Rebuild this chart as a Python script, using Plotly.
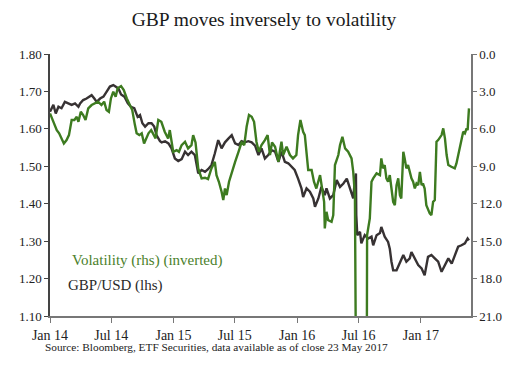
import plotly.graph_objects as go

gbp_dates = [
    "2014-01-01","2014-01-11","2014-01-18","2014-01-26","2014-02-04","2014-02-14","2014-02-24","2014-03-06",
    "2014-03-16","2014-03-21","2014-03-26","2014-03-31","2014-04-09","2014-04-19","2014-04-29","2014-05-04",
    "2014-05-12","2014-05-19","2014-05-29","2014-06-08","2014-06-17","2014-06-27","2014-07-07","2014-07-14",
    "2014-07-22","2014-07-30","2014-08-09","2014-08-19","2014-08-28","2014-09-07","2014-09-17","2014-09-24",
    "2014-10-01","2014-10-09","2014-10-19","2014-10-28","2014-11-05","2014-11-12","2014-11-22",
    "2014-11-27","2014-12-07","2014-12-17","2014-12-26","2015-01-05","2015-01-15","2015-01-25","2015-02-04",
    "2015-02-13","2015-02-23","2015-03-05","2015-03-10","2015-03-15","2015-03-25","2015-04-04","2015-04-13",
    "2015-04-23","2015-05-03","2015-05-13","2015-05-23","2015-06-02","2015-06-12","2015-06-22","2015-07-02",
    "2015-07-12","2015-07-21","2015-07-31","2015-08-10","2015-08-20","2015-08-30","2015-09-09","2015-09-18",
    "2015-09-28","2015-10-08","2015-10-18","2015-10-28","2015-11-07","2015-11-16","2015-11-26","2015-12-06",
    "2015-12-15","2015-12-25","2016-01-04","2016-01-14","2016-01-19","2016-01-29","2016-02-08","2016-02-18",
    "2016-02-23","2016-03-04","2016-03-13","2016-03-23","2016-03-28","2016-04-07","2016-04-17","2016-04-27",
    "2016-05-07","2016-05-17","2016-05-27","2016-06-05","2016-06-15","2016-06-20","2016-06-23","2016-06-24",
    "2016-06-27","2016-07-05","2016-07-09","2016-07-19","2016-07-29","2016-08-08","2016-08-13","2016-08-23",
    "2016-09-02","2016-09-06","2016-09-16","2016-09-26","2016-10-01","2016-10-06","2016-10-11","2016-10-21",
    "2016-10-31","2016-11-10","2016-11-19","2016-11-29","2016-12-04","2016-12-14","2016-12-24","2017-01-03",
    "2017-01-12","2017-01-22","2017-02-01","2017-02-11","2017-02-21","2017-03-03","2017-03-13","2017-03-23",
    "2017-04-02","2017-04-11","2017-04-21","2017-05-01","2017-05-11","2017-05-19","2017-05-23",
]
gbp_values = [
    1.646,1.664,1.641,1.659,1.655,1.672,1.668,1.664,
    1.668,1.664,1.659,1.668,1.677,1.681,1.686,1.690,
    1.681,1.672,1.681,1.686,1.699,1.713,1.717,1.713,
    1.708,1.692,1.686,1.668,1.659,1.655,1.632,1.637,
    1.615,1.606,1.615,1.615,1.606,1.583,1.567,
    1.564,1.567,1.561,1.548,1.521,1.514,1.519,1.539,
    1.530,1.539,1.530,1.503,1.481,1.490,1.485,1.492,
    1.503,1.534,1.570,1.548,1.564,1.574,1.583,1.561,
    1.557,1.567,1.564,1.567,1.564,1.555,1.530,1.548,
    1.521,1.530,1.543,1.539,1.512,1.539,1.512,1.508,
    1.499,1.490,1.467,1.441,1.418,1.441,1.432,1.414,
    1.392,1.414,1.445,1.423,1.441,1.414,1.423,1.463,
    1.445,1.454,1.467,1.441,1.414,1.465,1.481,1.370,
    1.316,1.325,1.294,1.316,1.307,1.312,1.289,1.316,
    1.322,1.338,1.312,1.298,1.280,1.245,1.222,1.222,
    1.245,1.263,1.245,1.254,1.271,1.254,1.236,1.227,
    1.209,1.258,1.263,1.254,1.245,1.218,1.236,1.254,
    1.240,1.263,1.285,1.289,1.294,1.307,1.302,
]

vol_dates = [
    "2014-01-01","2014-01-11","2014-01-21","2014-01-28","2014-02-04","2014-02-11","2014-02-19","2014-02-26",
    "2014-03-06","2014-03-14","2014-03-21","2014-03-26","2014-04-02","2014-04-09","2014-04-16","2014-04-24",
    "2014-05-04","2014-05-14","2014-05-23","2014-06-02","2014-06-10","2014-06-17","2014-06-24","2014-06-30",
    "2014-07-07","2014-07-14","2014-07-20","2014-07-30","2014-08-07","2014-08-16","2014-08-23","2014-09-01",
    "2014-09-09","2014-09-14","2014-09-22","2014-09-29","2014-10-06","2014-10-12","2014-10-19","2014-10-27",
    "2014-11-03","2014-11-09","2014-11-17",
    "2014-11-26","2014-12-06","2014-12-16","2014-12-21","2014-12-31","2015-01-10","2015-01-17","2015-01-25",
    "2015-02-04","2015-02-13","2015-02-23","2015-02-28","2015-03-07","2015-03-15","2015-03-25","2015-04-04",
    "2015-04-13","2015-04-23","2015-05-03","2015-05-08","2015-05-15","2015-05-23","2015-05-28","2015-06-02",
    "2015-06-07","2015-06-14","2015-06-22","2015-07-02","2015-07-12","2015-07-21","2015-07-29","2015-08-05",
    "2015-08-12","2015-08-20","2015-08-27","2015-09-03","2015-09-10","2015-09-18",
    "2015-09-28","2015-10-06","2015-10-13","2015-10-19","2015-10-28","2015-11-07","2015-11-11","2015-11-16",
    "2015-11-21","2015-12-01","2015-12-11","2015-12-20","2015-12-30","2016-01-04","2016-01-11","2016-01-19",
    "2016-01-24","2016-01-29","2016-02-03","2016-02-13","2016-02-20","2016-02-27","2016-03-04","2016-03-09",
    "2016-03-15","2016-03-21","2016-03-23","2016-03-28","2016-04-02","2016-04-12","2016-04-17","2016-04-22",
    "2016-05-02","2016-05-07","2016-05-14","2016-05-22","2016-05-31","2016-06-10","2016-06-15","2016-06-20",
    "2016-06-23","2016-07-25","2016-07-26","2016-08-03","2016-08-08","2016-08-13","2016-08-23","2016-09-02",
    "2016-09-06","2016-09-11","2016-09-16","2016-09-21","2016-09-26","2016-10-01","2016-10-06","2016-10-11",
    "2016-10-16","2016-10-21","2016-10-26","2016-10-31","2016-11-04","2016-11-10","2016-11-14","2016-11-19",
    "2016-11-24","2016-11-29","2016-12-04","2016-12-09","2016-12-14","2016-12-19","2016-12-24","2016-12-29",
    "2017-01-03","2017-01-07","2017-01-12","2017-01-17","2017-01-22","2017-01-27","2017-02-01","2017-02-06",
    "2017-02-11","2017-02-16","2017-02-21","2017-03-03","2017-03-08","2017-03-13","2017-03-18","2017-03-23",
    "2017-04-01","2017-04-11","2017-04-16","2017-04-21","2017-04-26","2017-05-01","2017-05-06","2017-05-11",
    "2017-05-16","2017-05-19","2017-05-23",
]
vol_values = [
    4.76,5.43,6.10,6.36,6.76,7.17,6.90,6.50,
    5.29,5.29,5.03,5.43,4.63,4.89,5.29,4.36,
    4.09,3.96,3.82,4.09,3.82,4.49,4.63,3.56,
    3.02,3.42,2.75,2.57,2.89,3.56,3.96,4.49,
    5.70,6.36,6.50,6.36,7.17,6.76,6.36,6.10,
    6.50,6.76,5.29,
    5.43,6.23,6.77,6.10,7.84,7.70,7.84,7.30,
    7.03,7.57,7.30,6.50,7.09,9.17,9.97,9.92,
    10.03,9.17,8.64,9.71,10.24,11.04,11.71,10.78,
    11.31,10.24,9.44,8.64,7.84,7.09,7.30,5.83,
    4.89,5.03,5.43,7.03,7.84,7.30,
    6.90,6.50,8.10,7.09,7.43,8.64,7.83,7.03,
    8.10,7.43,8.10,8.37,8.10,6.50,5.29,6.23,
    6.50,7.83,9.30,9.30,10.24,10.78,10.24,9.71,
    10.78,11.85,13.98,12.65,13.32,13.45,12.92,8.90,
    8.10,7.30,6.63,7.57,7.83,8.37,9.44,11.31,
    25.0,25.0,14.52,13.18,10.24,9.97,9.57,9.71,
    8.37,9.17,8.90,9.97,10.24,9.71,10.78,11.85,
    12.11,10.51,9.97,11.31,11.58,7.83,8.37,9.17,
    8.90,9.44,9.97,10.24,10.78,10.38,10.51,9.44,
    10.51,10.38,10.78,12.11,12.51,12.78,12.92,11.85,
    11.71,7.03,6.90,6.50,5.96,6.76,8.10,8.90,
    9.04,9.17,8.77,8.10,7.30,6.76,6.23,6.36,
    5.96,6.10,4.36,
]

left_ticks = [1.10, 1.20, 1.30, 1.40, 1.50, 1.60, 1.70, 1.80]
right_ticks = [0.0, 3.0, 6.0, 9.0, 12.0, 15.0, 18.0, 21.0]

GREEN = "#3d7b20"
DARK = "#373233"
SERIF = "Liberation Serif"

fig = go.Figure()
fig.add_trace(go.Scatter(x=gbp_dates, y=gbp_values, mode="lines", name="GBP/USD (lhs)",
                         line=dict(color=DARK, width=2.4), yaxis="y"))
fig.add_trace(go.Scatter(x=vol_dates, y=vol_values, mode="lines", name="Volatility (rhs) (inverted)",
                         line=dict(color=GREEN, width=2.4), yaxis="y2"))

fig.update_layout(
    width=528, height=371,
    margin=dict(l=50, r=57, t=54, b=55, autoexpand=False),
    paper_bgcolor="white", plot_bgcolor="white",
    showlegend=False,
    font=dict(family=SERIF, color="#222", size=13),
    title=dict(text="GBP moves inversely to volatility", x=0.5, xanchor="center",
               y=1 - 19 / 371, yanchor="middle", font=dict(size=19.5, color="#1a1a1a", family=SERIF)),
    xaxis=dict(type="date", range=["2014-01-01", "2017-05-29"], dtick="M6", tick0="2014-01-01",
               tickformat="%b %y", showgrid=False, zeroline=False, showline=True, linecolor="#777",
               linewidth=1.5, ticks="outside", ticklen=5, tickcolor="#777", automargin=False,
               tickfont=dict(size=14, color="#222", family=SERIF)),
    yaxis=dict(range=[1.10, 1.80], tickvals=left_ticks, tickformat=".2f", showgrid=False,
               zeroline=False, showline=True, linecolor="#444", linewidth=1.5, ticks="outside",
               ticklen=4, tickcolor="#444", automargin=False,
               tickfont=dict(size=13, color="#222", family=SERIF)),
    yaxis2=dict(range=[21, 0], tickvals=right_ticks, tickformat=".1f", overlaying="y", side="right",
                showgrid=False, zeroline=False, showline=True, linecolor="#777", linewidth=1.5,
                ticks="outside", ticklen=4, tickcolor="#777", automargin=False,
                tickfont=dict(size=13, color="#222", family=SERIF)),
    annotations=[
        dict(text="Volatility (rhs) (inverted)", xref="paper", yref="paper", x=0.047, y=0.211,
             xanchor="left", yanchor="middle", showarrow=False,
             font=dict(size=15, color="#4b7f2b", family=SERIF)),
        dict(text="GBP/USD (lhs)", xref="paper", yref="paper", x=0.038, y=0.118,
             xanchor="left", yanchor="middle", showarrow=False,
             font=dict(size=15, color="#2a2a2a", family=SERIF)),
        dict(text="Source: Bloomberg, ETF Securities, data available as of close 23 May 2017",
             xref="paper", yref="paper", x=(43 - 50) / 421, y=(316 - 347) / 262,
             xanchor="left", yanchor="middle", showarrow=False,
             font=dict(size=11.3, color="#222", family=SERIF)),
    ],
)

fig.write_html("out.html", config={"displayModeBar": False},
               post_script="document.body.style.margin='0';document.body.style.padding='0';")
